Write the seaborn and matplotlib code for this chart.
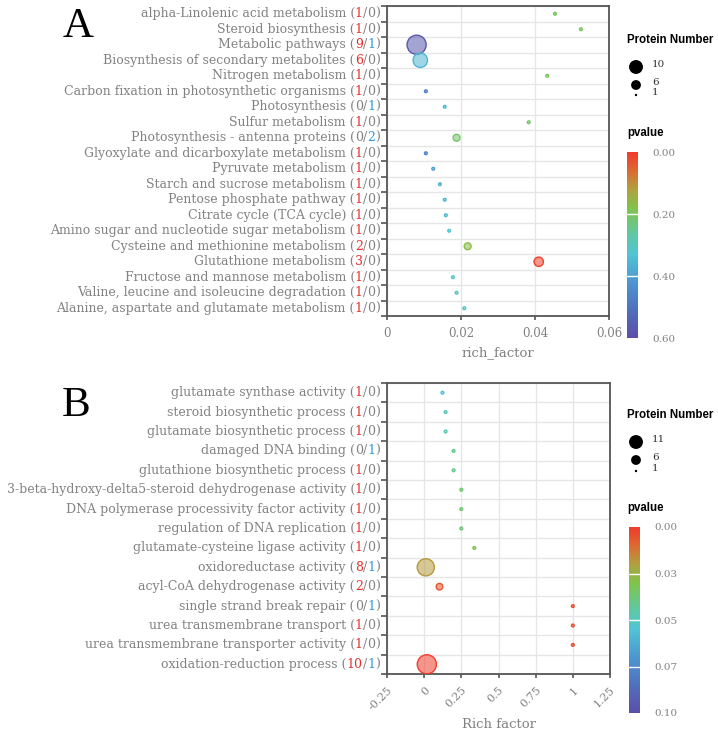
import numpy as np
import pandas as pd
import matplotlib
matplotlib.use('Agg')
import matplotlib.pyplot as plt
import seaborn as sns
from matplotlib.colors import LinearSegmentedColormap, Normalize
from matplotlib.cm import ScalarMappable
from matplotlib.ticker import FixedLocator

# ---- panel A: KEGG pathways ----
a_terms = ['alpha-Linolenic acid metabolism', 'Steroid biosynthesis', 'Metabolic pathways',
           'Biosynthesis of secondary metabolites', 'Nitrogen metabolism',
           'Carbon fixation in photosynthetic organisms', 'Photosynthesis', 'Sulfur metabolism',
           'Photosynthesis - antenna proteins', 'Glyoxylate and dicarboxylate metabolism',
           'Pyruvate metabolism', 'Starch and sucrose metabolism', 'Pentose phosphate pathway',
           'Citrate cycle (TCA cycle)', 'Amino sugar and nucleotide sugar metabolism',
           'Cysteine and methionine metabolism', 'Glutathione metabolism',
           'Fructose and mannose metabolism', 'Valine, leucine and isoleucine degradation',
           'Alanine, aspartate and glutamate metabolism']
a_up = [1, 1, 9, 6, 1, 1, 0, 1, 0, 1, 1, 1, 1, 1, 1, 2, 3, 1, 1, 1]
a_down = [0, 0, 1, 0, 0, 0, 1, 0, 2, 0, 0, 0, 0, 0, 0, 0, 0, 0, 0, 0]
a_rich = [0.0454, 0.0524, 0.0080, 0.0090, 0.0433, 0.0105, 0.0156, 0.0383, 0.0188, 0.0105,
          0.0125, 0.0143, 0.0156, 0.0159, 0.0168, 0.0218, 0.0410, 0.0178, 0.0188, 0.0209]
a_pvalue = [0.20, 0.20, 0.57, 0.36, 0.20, 0.47, 0.35, 0.21, 0.21, 0.47,
            0.40, 0.36, 0.35, 0.35, 0.33, 0.17, 0.01, 0.32, 0.31, 0.31]

# ---- panel B: GO terms ----
b_terms = ['glutamate synthase activity', 'steroid biosynthetic process',
           'glutamate biosynthetic process', 'damaged DNA binding',
           'glutathione biosynthetic process', '3-beta-hydroxy-delta5-steroid dehydrogenase activity',
           'DNA polymerase processivity factor activity', 'regulation of DNA replication',
           'glutamate-cysteine ligase activity', 'oxidoreductase activity',
           'acyl-CoA dehydrogenase activity', 'single strand break repair',
           'urea transmembrane transport', 'urea transmembrane transporter activity',
           'oxidation-reduction process']
b_up = [1, 1, 1, 0, 1, 1, 1, 1, 1, 8, 2, 0, 1, 1, 10]
b_down = [0, 0, 0, 1, 0, 0, 0, 0, 0, 1, 0, 1, 0, 0, 1]
b_rich = [0.123, 0.144, 0.144, 0.198, 0.198, 0.25, 0.25, 0.25, 0.337, 0.011,
          0.103, 1.0, 1.0, 1.0, 0.018]
b_pvalue = [0.055, 0.048, 0.048, 0.041, 0.041, 0.037, 0.037, 0.037, 0.031, 0.019,
            0.006, 0.004, 0.004, 0.004, 0.001]

a_cbar_ticks = [0.0, 0.2, 0.4, 0.6]
b_cbar_ticks = [0.0, 0.025, 0.05, 0.075, 0.1]
a_size_keys = [10, 6, 1]
b_size_keys = [11, 6, 1]

sns.set_theme(style='white')
plt.rcParams['font.family'] = ['DejaVu Serif']

GRAY = '#828282'
RED = '#e8302a'
BLUE = '#2a9ad8'
SPINE = '#555555'
LABEL_FS = 9.0
cmap = LinearSegmentedColormap.from_list('pv', [
    (0.0, '#f23a2c'), (0.1, '#dc6a32'), (0.2, '#b0a040'), (0.3, '#80c44a'),
    (0.45, '#5ec8a8'), (0.55, '#50c4d4'), (0.7, '#4d96d0'), (0.85, '#5070bc'),
    (1.0, '#5b4ea8')])

W, H = 718, 737
fig = plt.figure(figsize=(W / 100, H / 100), dpi=100)


def px_axes(x0, y0, x1, y1):
    return fig.add_axes([x0 / W, 1 - y1 / H, (x1 - x0) / W, (y1 - y0) / H])


def draw_label(ax, y, name, up, down):
    parts = [(')', GRAY), (str(down), BLUE if down else GRAY), ('/', GRAY),
             (str(up), RED if up else GRAY), (name + ' (', GRAY)]
    prev = ax.annotate(parts[0][0], xy=(0, y), xycoords=ax.get_yaxis_transform(),
                       xytext=(-5, 0), textcoords='offset points', ha='right', va='center',
                       color=parts[0][1], fontsize=LABEL_FS, annotation_clip=False)
    for txt, col in parts[1:]:
        prev = ax.annotate(txt, xy=(0, 0), xycoords=prev, ha='right', va='bottom',
                           color=col, fontsize=LABEL_FS, annotation_clip=False)


def bubble_panel(ax, terms, up, down, rich, pvalue, pmax, size_max, xlim, xticks, xlabel):
    df = pd.DataFrame({'term': terms, 'up': up, 'down': down, 'rich': rich, 'pvalue': pvalue})
    df['count'] = df['up'] + df['down']
    df['pos'] = np.arange(len(df))
    sns.scatterplot(data=df, x='rich', y='pos', hue='pvalue', size='count',
                    palette=cmap, hue_norm=(0, pmax), sizes=(4, 190),
                    size_norm=(1, size_max), legend=False, ax=ax, zorder=3)
    pts = ax.collections[0]
    fc = pts.get_facecolors().copy()
    pts.set_edgecolors(fc.copy())
    fc[:, 3] = 0.55
    pts.set_facecolors(fc)
    pts.set_linewidth(1.0)

    n = len(df)
    ax.set_ylim(n - 0.5, -0.5)
    ax.set_xlim(*xlim)
    ax.set_yticks([])
    ax.yaxis.set_minor_locator(FixedLocator(np.arange(-0.5, n, 1.0)))
    ax.set_xticks(xticks)
    ax.grid(which='minor', axis='y', color='#e6e6e6', lw=1)
    ax.grid(which='major', axis='x', color='#e6e6e6', lw=1)
    ax.set_axisbelow(True)
    ax.tick_params(axis='y', which='minor', left=True, length=4, width=1.2, color=SPINE)
    ax.tick_params(axis='x', which='major', bottom=True, length=3, width=1.2, color=SPINE,
                   labelcolor=GRAY, labelsize=8.5, pad=5)
    for sp in ax.spines.values():
        sp.set_color(SPINE)
        sp.set_linewidth(1.3)
    ax.set_xlabel(xlabel, color=GRAY, fontsize=9.5)
    ax.set_ylabel('')
    for i, row in df.iterrows():
        draw_label(ax, row['pos'], row['term'], row['up'], row['down'])


def side_keys(title_y, keys, key_y, key_s, cbar_box, pmax, ticks):
    ov.text(627, title_y, 'Protein Number', family='Liberation Sans', weight='bold',
            fontsize=8.3, color='black', va='center', ha='left')
    ov.scatter([636] * len(keys), key_y, s=key_s, color='black', lw=0)
    for k, y in zip(keys, key_y):
        ov.text(652, y - 3, str(k), fontsize=7.5, color='#333333', va='center', ha='left')
    ov.text(627, cbar_box[1] - 19, 'pvalue', family='Liberation Sans', weight='bold',
            fontsize=8.3, color='black', va='center', ha='left')
    cax = px_axes(*cbar_box)
    cb = fig.colorbar(ScalarMappable(Normalize(0, pmax), cmap), cax=cax)
    cb.outline.set_visible(False)
    cax.invert_yaxis()
    cb.set_ticks(ticks)
    cb.set_ticklabels(['%.2f' % t for t in ticks])
    cax.tick_params(length=0, labelcolor=GRAY, labelsize=7.5, pad=10)
    for t in ticks[1:-1]:
        cax.axhline(t, color='white', lw=1)


ax_a = px_axes(387, 6, 609, 316)
bubble_panel(ax_a, a_terms, a_up, a_down, a_rich, a_pvalue, 0.6, 10,
             (0, 0.06), [0, 0.02, 0.04, 0.06], 'rich_factor')
ax_a.set_xticklabels(['0', '0.02', '0.04', '0.06'])

ax_b = px_axes(387, 383, 610, 674)
bubble_panel(ax_b, b_terms, b_up, b_down, b_rich, b_pvalue, 0.1, 11,
             (-0.25, 1.25), [-0.25, 0, 0.25, 0.5, 0.75, 1, 1.25], 'Rich factor')
ax_b.set_xticklabels(['-0.25', '0', '0.25', '0.5', '0.75', '1', '1.25'],
                     rotation=45, ha='right', rotation_mode='anchor', fontsize=8)

ov = fig.add_axes([0, 0, 1, 1], zorder=-1)
ov.set_xlim(0, W)
ov.set_ylim(H, 0)
ov.axis('off')
ov.text(78, 27, 'A', family='Liberation Serif', fontsize=31, color='black',
        ha='center', va='center')
ov.text(76, 406, 'B', family='Liberation Serif', fontsize=31, color='black',
        ha='center', va='center')

side_keys(40, a_size_keys, [67, 85, 95], [100, 50, 3], (627, 152, 638, 338), 0.6, a_cbar_ticks)
side_keys(415, b_size_keys, [442, 460, 471], [100, 50, 3], (629, 527, 640, 713), 0.1, b_cbar_ticks)

fig.savefig('out.png', dpi=100)
